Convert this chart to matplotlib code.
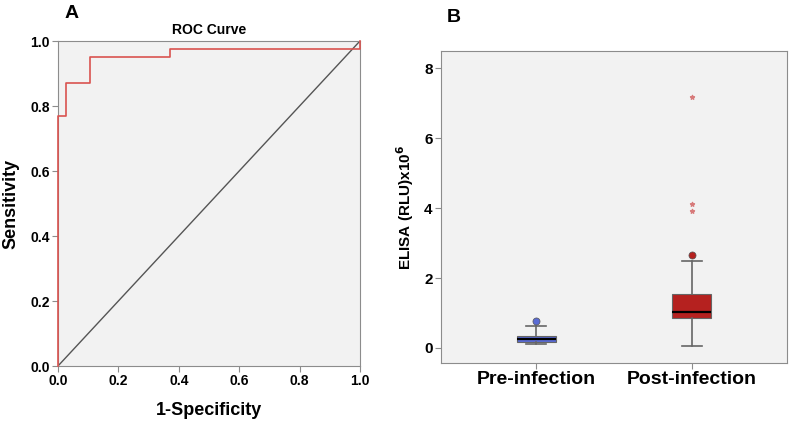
import matplotlib
matplotlib.use("Agg")
import matplotlib.pyplot as plt

plt.rcParams['font.family'] = ['Liberation Sans', 'DejaVu Sans']

# ROC curve (panel A)
fpr = [0.0, 0.0, 0.025, 0.025, 0.105, 0.105, 0.37, 0.37, 1.0, 1.0]
tpr = [0.0, 0.77, 0.77, 0.87, 0.87, 0.95, 0.95, 0.975, 0.975, 1.0]
roc_ticks = [0.0, 0.2, 0.4, 0.6, 0.8, 1.0]

# ELISA box plot (panel B)
groups = ["Pre-infection", "Post-infection"]
whislo = [0.10, 0.06]
q1 = [0.18, 0.87]
med = [0.26, 1.03]
q3 = [0.35, 1.55]
whishi = [0.62, 2.49]
circle_outliers = [[0.76], [2.66]]
star_outliers = [[], [3.91, 4.12, 7.17]]
box_colors = ["#5a6bd4", "#b5211f"]
elisa_ticks = [0, 2, 4, 6, 8]

fig = plt.figure(figsize=(7.92, 4.25), dpi=100)
spine_col = "#8c8c8c"
bg = "#f2f2f2"

# ---- panel A ----
ax1 = fig.add_axes([0.0732, 0.1388, 0.3813, 0.7647])
ax1.set_facecolor(bg)
ax1.plot(fpr, tpr, color="#d9534f", lw=1.2, clip_on=False, zorder=4)
ax1.plot([0, 1], [0, 1], color="#555555", lw=1.0)
ax1.set_xlim(0, 1)
ax1.set_ylim(0, 1)
ax1.set_xticks(roc_ticks)
ax1.set_yticks(roc_ticks)
ax1.set_xticklabels([f"{t:.1f}" for t in roc_ticks], fontweight="bold", fontsize=10)
ax1.set_yticklabels([f"{t:.1f}" for t in roc_ticks], fontweight="bold", fontsize=10)
ax1.tick_params(direction="out", length=4, color=spine_col, pad=2)
for s in ax1.spines.values():
    s.set_color(spine_col)
ax1.set_xlabel("1-Specificity", fontweight="bold", fontsize=13, labelpad=10)
ax1.set_ylabel("Sensitivity", fontweight="bold", fontsize=13, labelpad=8)
ax1.set_title("ROC Curve", fontweight="bold", fontsize=10, pad=5)
fig.text(0.091, 0.968, "A", fontweight="bold", fontsize=14, ha="center", va="center")

# ---- panel B ----
ax2 = fig.add_axes([0.5568, 0.1459, 0.4369, 0.734])
ax2.set_facecolor(bg)
stats = []
for i in range(len(groups)):
    stats.append(dict(whislo=whislo[i], q1=q1[i], med=med[i], q3=q3[i],
                      whishi=whishi[i], fliers=circle_outliers[i]))
bp = ax2.bxp(stats, positions=[1, 2], widths=0.25, patch_artist=True,
             medianprops=dict(color="black", lw=1.6),
             whiskerprops=dict(color="#666666", lw=1.2),
             capprops=dict(color="#666666", lw=1.2),
             boxprops=dict(edgecolor="#666666", lw=0.8),
             showfliers=False)
for patch, c in zip(bp["boxes"], box_colors):
    patch.set_facecolor(c)
for i, c in enumerate(box_colors):
    ax2.scatter([i + 1] * len(circle_outliers[i]), circle_outliers[i], s=26,
                color=c, edgecolor="#555555", lw=0.5, zorder=3)
    if star_outliers[i]:
        ax2.scatter([i + 1] * len(star_outliers[i]), star_outliers[i], marker="*",
                    s=9, color="#d77a7a", zorder=3)
ax2.set_xlim(0.389, 2.611)
ax2.set_ylim(-0.43, 8.49)
ax2.set_yticks(elisa_ticks)
ax2.set_yticklabels([str(t) for t in elisa_ticks], fontweight="bold", fontsize=11)
ax2.set_xticks([1, 2])
ax2.set_xticklabels(groups, fontweight="bold", fontsize=14)
ax2.tick_params(direction="out", length=4, color=spine_col, pad=2)
for s in ax2.spines.values():
    s.set_color(spine_col)
ax2.set_ylabel("ELISA (RLU)x10$^{\\mathbf{6}}$", fontweight="bold", fontsize=11, labelpad=6)
fig.text(0.573, 0.96, "B", fontweight="bold", fontsize=14, ha="center", va="center")

fig.savefig("out.png", dpi=100)
